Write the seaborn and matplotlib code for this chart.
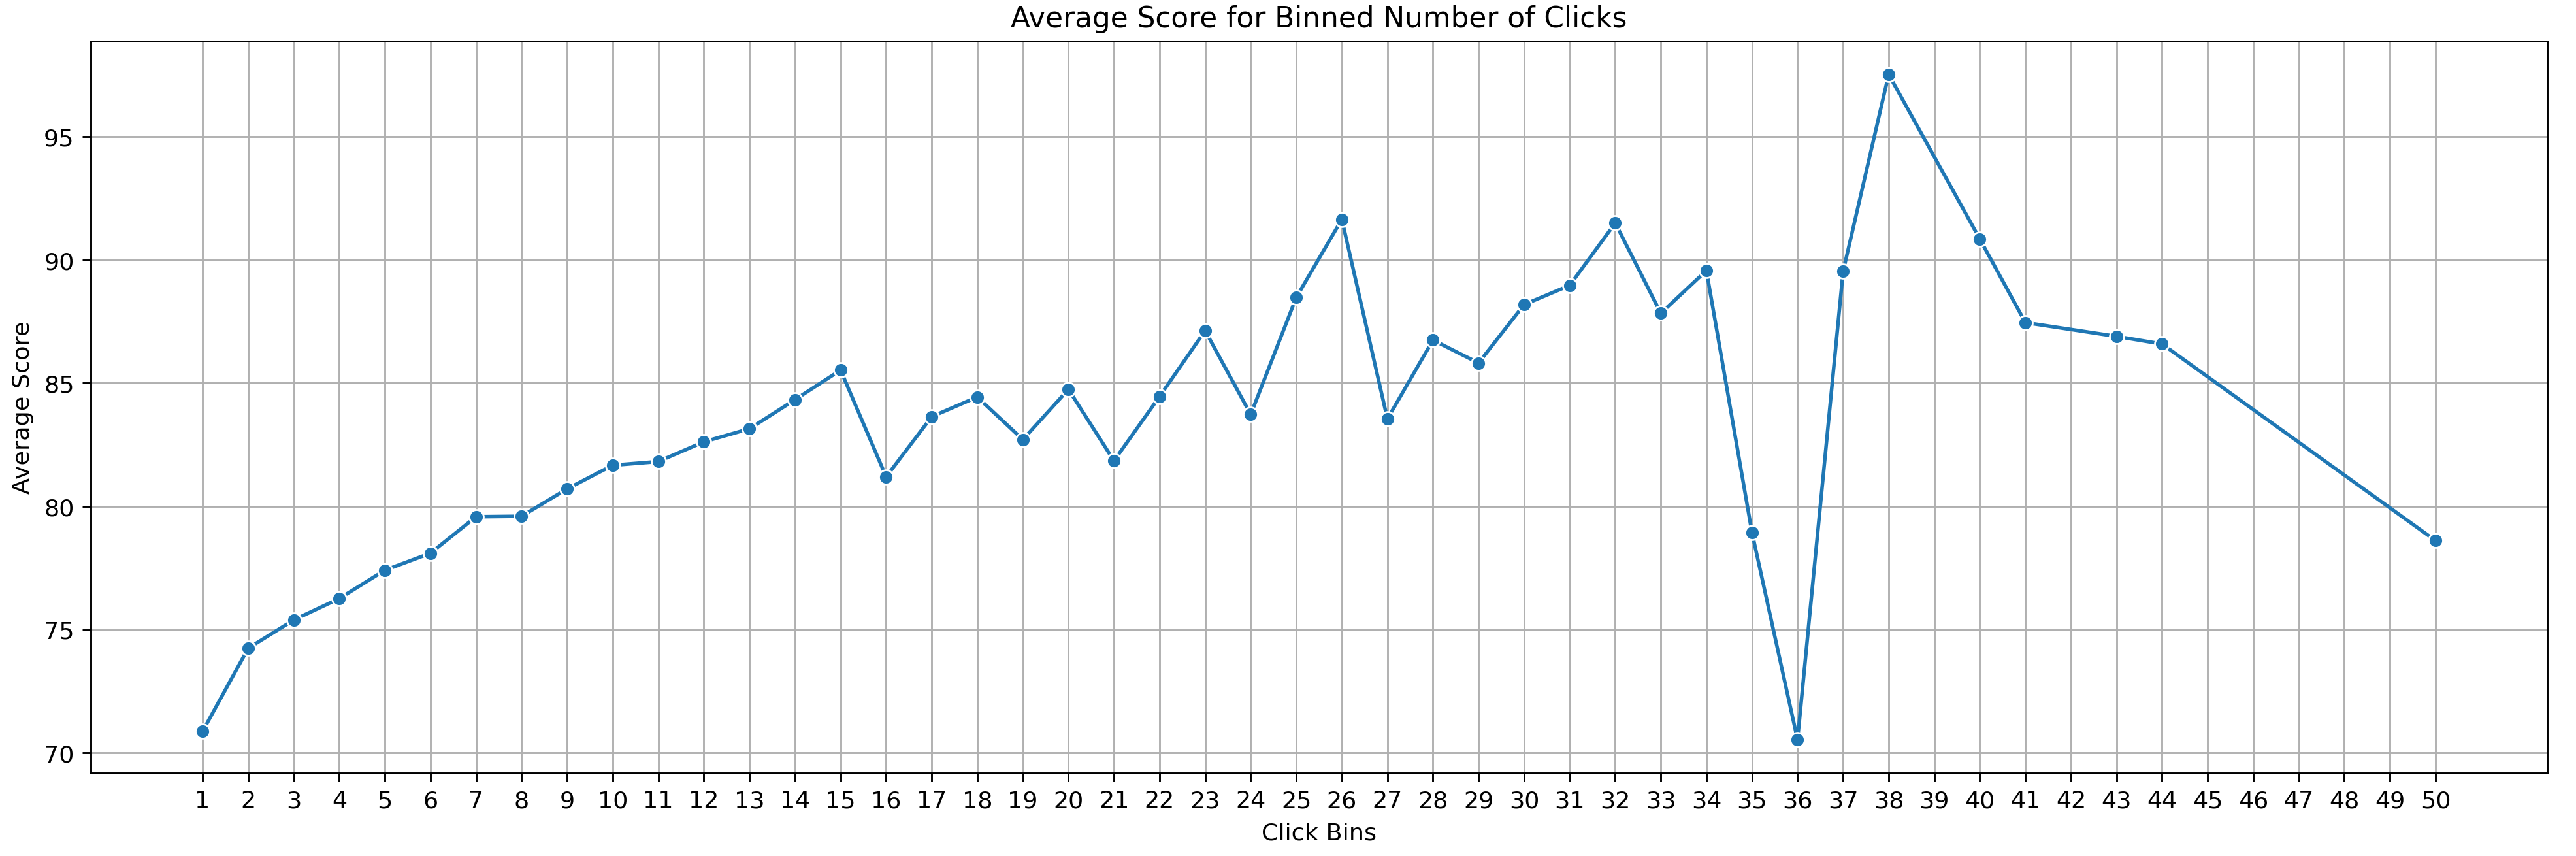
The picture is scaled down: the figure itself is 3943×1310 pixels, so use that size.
import pandas as pd
import matplotlib
matplotlib.use("Agg")
import matplotlib.pyplot as plt
import seaborn as sns

# Average score per click bin
click_bins = [1, 2, 3, 4, 5, 6, 7, 8, 9, 10,
              11, 12, 13, 14, 15, 16, 17, 18, 19, 20,
              21, 22, 23, 24, 25, 26, 27, 28, 29, 30,
              31, 32, 33, 34, 35, 36, 37, 38, 40, 41,
              43, 44, 50]
avg_scores = [70.87, 74.24, 75.39, 76.26, 77.41, 78.10, 79.58, 79.60, 80.71, 81.67,
              81.82, 82.62, 83.15, 84.33, 85.53, 81.20, 83.64, 84.44, 82.71, 84.75,
              81.85, 84.46, 87.13, 83.73, 88.48, 91.65, 83.55, 86.75, 85.82, 88.19,
              88.97, 91.50, 87.84, 89.57, 78.94, 70.53, 89.54, 97.53, 90.85, 87.46,
              86.90, 86.59, 78.61]
x_ticks = list(range(1, 51))

df = pd.DataFrame({"Click Bins": click_bins, "Average Score": avg_scores})

fig = plt.figure(figsize=(15, 4.987), dpi=262.87)
ax = fig.add_subplot(111)
fig.subplots_adjust(left=0.0353, right=0.9888, top=0.9512, bottom=0.0969)

sns.lineplot(data=df, x="Click Bins", y="Average Score", marker="o", ax=ax)
ax.set_xticks(x_ticks)
ax.grid(True)
ax.set_title("Average Score for Binned Number of Clicks")
ax.set_xlabel("Click Bins")
ax.set_ylabel("Average Score")

fig.savefig("out.png", dpi=262.87)
